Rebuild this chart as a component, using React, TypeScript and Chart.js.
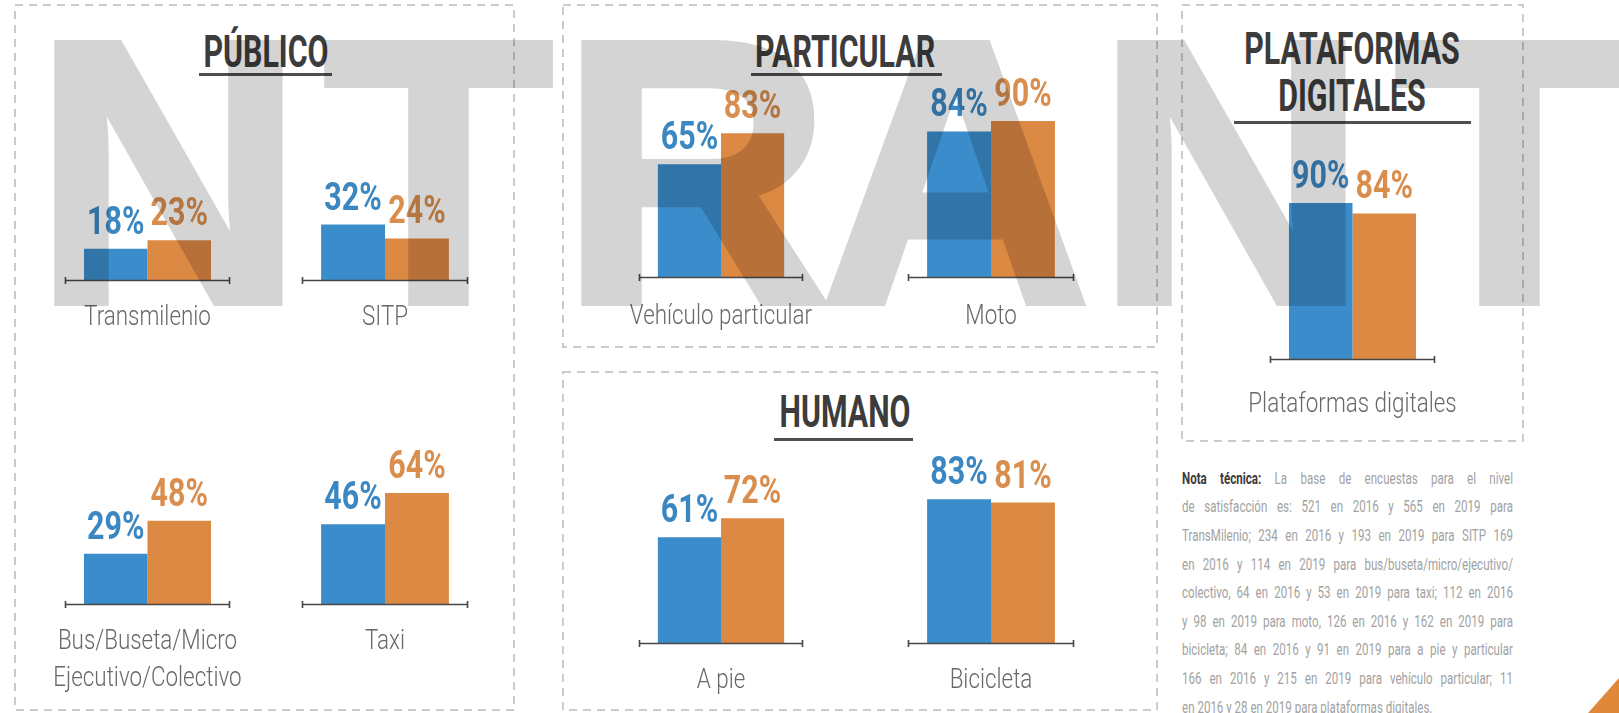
import React, { useEffect, useRef } from "react";
import { Chart, registerables } from "chart.js";

Chart.register(...registerables);

// ---------------- DATA ----------------
const categories: (string | string[])[] = [
  "Transmilenio",
  "SITP",
  ["Bus/Buseta/Micro", "Ejecutivo/Colectivo"],
  "Taxi",
  "Vehículo particular",
  "Moto",
  "A pie",
  "Bicicleta",
  "Plataformas digitales",
];
const seriesNames = ["2016", "2019"];
const values2016 = [18, 32, 29, 46, 65, 84, 61, 83, 90];
const values2019 = [23, 24, 48, 64, 83, 90, 72, 81, 84];

const groupTitles = ["PÚBLICO", "PARTICULAR", "HUMANO", ["PLATAFORMAS", "DIGITALES"]];

const noteLead = "Nota técnica:";
const noteLines = [
  " La base de encuestas para el nivel",
  "de satisfacción es: 521 en 2016 y 565 en 2019 para",
  "TransMilenio; 234 en 2016 y 193 en 2019 para SITP 169",
  "en 2016 y 114 en 2019 para bus/buseta/micro/ejecutivo/",
  "colectivo, 64 en 2016 y 53 en 2019 para taxi; 112 en 2016",
  "y 98 en 2019 para moto, 126 en 2016 y 162 en 2019 para",
  "bicicleta; 84 en 2016 y 91 en 2019 para a pie y particular",
  "166 en 2016 y 215 en 2019 para vehículo particular; 11",
  "en 2016 y 28 en 2019 para plataformas digitales.",
];
const watermarkLetters = ["N", "T", "R", "A", "N", "T"];

// ---------------- LAYOUT / STYLE ----------------
const BLUE = "#3a8cca";
const ORANGE = "#dc8944";
const BLUE_TXT = "#3b87c2";
const ORANGE_TXT = "#d98e4d";
const FONT = "Roboto, 'Liberation Sans', sans-serif";

const Y_MAX = 120;
const PLOT_H = 208; // px for Y_MAX
const PAD_X = 45;
const PAD_BOTTOM = 95;

// axis left/right and baseline for each mini chart
const chartBoxes = [
  { left: 65, right: 230, base: 280, gap: 38 },
  { left: 302, right: 468, base: 280, gap: 38 },
  { left: 65, right: 230, base: 604, gap: 38 },
  { left: 302, right: 468, base: 604, gap: 38 },
  { left: 639, right: 803, base: 277, gap: 40 },
  { left: 908, right: 1074, base: 277, gap: 40 },
  { left: 639, right: 803, base: 643, gap: 38 },
  { left: 908, right: 1074, base: 643, gap: 38 },
  { left: 1270, right: 1435, base: 359, gap: 46 },
];

const panels = [
  { x: 15, y: 5, w: 499, h: 705 },
  { x: 563, y: 5, w: 594, h: 342 },
  { x: 563, y: 372, w: 594, h: 338 },
  { x: 1182, y: 5, w: 341, h: 436 },
];

const titleBoxes = [
  { cx: 266, cy: [52], line: [199, 332, 74] },
  { cx: 845, cy: [52], line: [751, 942, 74] },
  { cx: 845, cy: [412], line: [774, 913, 439] },
  { cx: 1352, cy: [49, 96], line: [1234, 1471, 122] },
];

const watermarkX = [32, 323, 559, 819, 1095, 1394];

const decorPlugin = (gap: number) => ({
  id: "decor",
  afterDatasetsDraw(chart: any) {
    const ctx = chart.ctx;
    const x = chart.scales.x;
    const y = chart.scales.y;
    const y0 = y.getPixelForValue(0);
    const l = chart.chartArea.left;
    const r = chart.chartArea.right;
    ctx.save();
    // axis line with end caps
    ctx.strokeStyle = "#474747";
    ctx.lineWidth = 1.6;
    ctx.beginPath();
    ctx.moveTo(l, y0 + 0.5);
    ctx.lineTo(r, y0 + 0.5);
    ctx.moveTo(l + 0.5, y0 - 3);
    ctx.lineTo(l + 0.5, y0 + 4);
    ctx.moveTo(r - 0.5, y0 - 3);
    ctx.lineTo(r - 0.5, y0 + 4);
    ctx.stroke();

    // value labels
    const colors = [BLUE_TXT, ORANGE_TXT];
    chart.data.datasets.forEach((ds: any, di: number) => {
      const meta = chart.getDatasetMeta(di);
      meta.data.forEach((el: any, i: number) => {
        ctx.save();
        ctx.translate(el.x, el.y - 15);
        ctx.scale(0.78, 1);
        ctx.font = `bold 39px ${FONT}`;
        ctx.fillStyle = colors[di];
        ctx.textAlign = "center";
        ctx.textBaseline = "alphabetic";
        ctx.fillText(`${ds.data[i]}%`, 0, 0);
        ctx.restore();
      });
    });

    // category label
    const lab = chart.data.labels[0];
    const lines = Array.isArray(lab) ? lab : [lab];
    const cx = x.getPixelForTick(0);
    lines.forEach((t: string, i: number) => {
      ctx.save();
      ctx.translate(cx, y0 + gap + i * 37);
      ctx.scale(0.8, 1);
      ctx.font = `300 28px ${FONT}`;
      ctx.fillStyle = "#696969";
      ctx.textAlign = "center";
      ctx.textBaseline = "middle";
      ctx.fillText(t, 0, 0);
      ctx.restore();
    });
    ctx.restore();
  },
});

function MiniBar({ idx }: { idx: number }) {
  const ref = useRef<HTMLCanvasElement | null>(null);
  const box = chartBoxes[idx];
  const w = box.right - box.left + PAD_X * 2;
  const h = PLOT_H + PAD_BOTTOM;
  useEffect(() => {
    if (!ref.current) return;
    const chart = new Chart(ref.current, {
      type: "bar",
      data: {
        labels: [categories[idx]],
        datasets: [
          {
            label: seriesNames[0],
            data: [values2016[idx]],
            backgroundColor: BLUE,
            categoryPercentage: 0.77,
            barPercentage: 1,
          },
          {
            label: seriesNames[1],
            data: [values2019[idx]],
            backgroundColor: ORANGE,
            categoryPercentage: 0.77,
            barPercentage: 1,
          },
        ],
      } as any,
      options: {
        responsive: false,
        animation: false,
        events: [],
        layout: { padding: { left: PAD_X, right: PAD_X, top: 0, bottom: PAD_BOTTOM } },
        plugins: { legend: { display: false }, tooltip: { enabled: false } },
        scales: {
          x: { display: false, offset: true },
          y: { display: false, min: 0, max: Y_MAX },
        },
      } as any,
      plugins: [decorPlugin(box.gap)],
    });
    return () => chart.destroy();
  }, [idx]);
  return (
    <canvas
      ref={ref}
      width={w}
      height={h}
      style={{
        position: "absolute",
        left: box.left - PAD_X,
        top: box.base - PLOT_H,
        width: w,
        height: h,
      }}
    />
  );
}

export default function App() {
  const titleFs = 44;
  const noteTop = 478;
  const noteLH = 28.6;
  const noteScale = 0.68;
  return (
    <div
      style={{
        position: "fixed",
        left: 0,
        top: 0,
        width: 1619,
        height: 713,
        overflow: "hidden",
        background: "#ffffff",
        fontFamily: FONT,
      }}
    >
      <svg width={1619} height={713} style={{ position: "absolute", left: 0, top: 0 }}>
        {panels.map((p, i) => (
          <rect
            key={i}
            x={p.x}
            y={p.y}
            width={p.w}
            height={p.h}
            fill="none"
            stroke="#cbcbcb"
            strokeWidth={2}
            strokeDasharray="8 6"
          />
        ))}
      </svg>

      {titleBoxes.map((t, i) => {
        const tt = groupTitles[i];
        const lines = Array.isArray(tt) ? tt : [tt];
        return (
          <React.Fragment key={i}>
            {lines.map((s, j) => (
              <div
                key={j}
                style={{
                  position: "absolute",
                  left: t.cx - 300,
                  width: 600,
                  top: t.cy[j] - titleFs / 2,
                  height: titleFs,
                  lineHeight: `${titleFs}px`,
                  fontSize: titleFs,
                  fontWeight: 700,
                  color: "#3c3c3c",
                  textAlign: "center",
                  transform: "scaleX(0.69)",
                  whiteSpace: "nowrap",
                }}
              >
                {s}
              </div>
            ))}
            <div
              style={{
                position: "absolute",
                left: t.line[0],
                top: t.line[2] - 1,
                width: t.line[1] - t.line[0],
                height: 2.5,
                background: "#4e4e4e",
              }}
            />
          </React.Fragment>
        );
      })}

      {chartBoxes.map((_, i) => (
        <MiniBar key={i} idx={i} />
      ))}

      {noteLines.map((s, i) => (
        <div
          key={i}
          style={{
            position: "absolute",
            left: 1182,
            top: noteTop - noteLH / 2 + i * noteLH,
            width: 331 / noteScale,
            height: noteLH,
            lineHeight: `${noteLH}px`,
            fontSize: 17,
            color: "#a2a2a2",
            whiteSpace: "nowrap",
            textAlign: "justify",
            textAlignLast: i === noteLines.length - 1 ? "left" : "justify",
            transform: `scaleX(${noteScale})`,
            transformOrigin: "left center",
          } as any}
        >
          {i === 0 ? <b style={{ color: "#3a3a3a" }}>{noteLead}</b> : null}
          {s}
        </div>
      ))}

      <div
        style={{
          position: "absolute",
          left: 1588,
          top: 678,
          width: 31,
          height: 35,
          background: "#e0883a",
          clipPath: "polygon(0% 100%, 100% 100%, 100% 0%)",
        }}
      />

      <div
        style={{
          position: "absolute",
          left: 0,
          top: 0,
          width: 1619,
          height: 713,
          opacity: 0.17,
          pointerEvents: "none",
        }}
      >
        {watermarkLetters.map((ch, i) => (
          <span
            key={i}
            style={{
              position: "absolute",
              left: watermarkX[i],
              top: -17,
              fontFamily: "'Liberation Sans', Arial, sans-serif",
              fontWeight: 700,
              fontSize: 378,
              lineHeight: "378px",
              color: "#000",
              WebkitTextStroke: "6px #000",
              whiteSpace: "nowrap",
            } as any}
          >
            {ch}
          </span>
        ))}
      </div>
    </div>
  );
}
